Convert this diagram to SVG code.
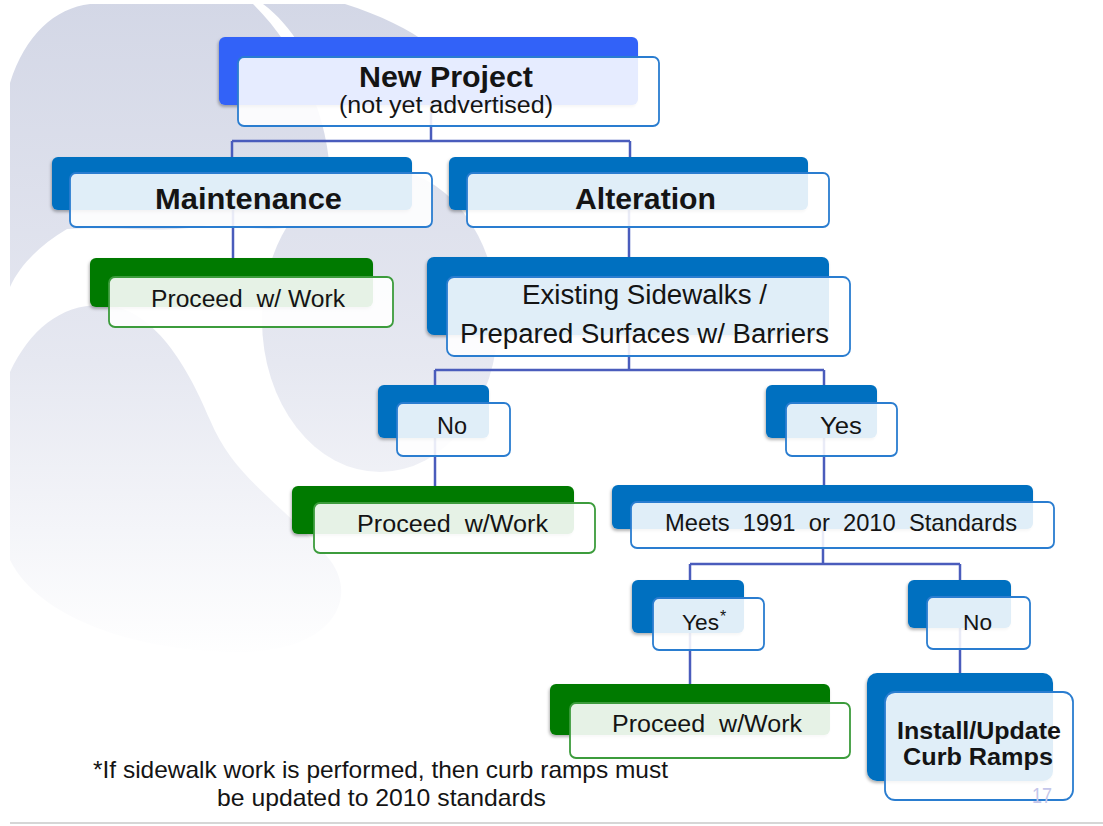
<svg xmlns="http://www.w3.org/2000/svg" width="1103" height="826" viewBox="0 0 1103 826">
  <defs>
    <linearGradient id="bgfade" x1="0" y1="0" x2="0" y2="660" gradientUnits="userSpaceOnUse">
      <stop offset="0" stop-color="#d3d7e6"/>
      <stop offset="0.55" stop-color="#e6e8f1"/>
      <stop offset="1" stop-color="#ffffff"/>
    </linearGradient>
    <filter id="sh" x="-10%" y="-10%" width="120%" height="130%">
      <feDropShadow dx="-1" dy="2" stdDeviation="1.5" flood-color="#000" flood-opacity="0.3"/>
    </filter>
  </defs>
  <style>
    .bg { fill: url(#bgfade); }
    .back { fill: #0070c0; filter: url(#sh); }
    .backTop { fill: #3162f8; filter: url(#sh); }
    .backG { fill: #007a00; filter: url(#sh); }
    .front { fill: #ffffff; fill-opacity: 0.88; stroke: #2a7dd0; stroke-width: 1.8; }
    .frontG { fill: #ffffff; fill-opacity: 0.9; stroke: #3c9c3c; stroke-width: 1.8; }
    .conn { fill: none; stroke: #4a5cbc; stroke-width: 2.5; }
    text { font-family: "Liberation Sans", Arial, sans-serif; fill: #141414; white-space: pre; }
    .b { font-weight: bold; }
  </style>

  <rect x="0" y="0" width="1103" height="826" fill="#ffffff"/>

  <!-- background swirl shapes -->
  <g id="background">
    <path class="bg" d="M10,83 C25,35 55,8 90,4 L253,4 C300,50 330,120 330,180 C330,205 320,220 300,226 C270,232 230,226 207,225 C170,234 110,226 67,229 C40,245 20,265 10,287 Z"/>
    <path class="bg" d="M263,4 L345,4 C380,15 410,30 430,45 L300,45 C290,30 278,15 263,4 Z"/>
    <ellipse class="bg" cx="380" cy="320" rx="118" ry="152"/>
    <path class="bg" d="M10,372 C30,330 60,305 100,305 C150,305 185,360 210,420 C235,480 280,500 330,560 C360,600 330,652 240,652 C140,652 40,620 10,560 Z"/>
    <line x1="10" y1="823" x2="1103" y2="823" stroke="#d6d6d6" stroke-width="2"/>
  </g>

  <!-- connectors -->
  <g id="connectors">
    <path class="conn" d="M431,90 V141"/>
    <path class="conn" d="M232,141 H630"/>
    <path class="conn" d="M232,141 V190"/>
    <path class="conn" d="M630,141 V190"/>
    <path class="conn" d="M233,200 V280"/>
    <path class="conn" d="M629,200 V300"/>
    <path class="conn" d="M629,320 V370"/>
    <path class="conn" d="M435,370 H824"/>
    <path class="conn" d="M435,370 V420"/>
    <path class="conn" d="M824,370 V420"/>
    <path class="conn" d="M435,425 V505"/>
    <path class="conn" d="M824,425 V505"/>
    <path class="conn" d="M823,525 V564"/>
    <path class="conn" d="M690,564 H960"/>
    <path class="conn" d="M690,564 V610"/>
    <path class="conn" d="M960,564 V610"/>
    <path class="conn" d="M690,620 V705"/>
    <path class="conn" d="M960,620 V700"/>
  </g>

  <g id="new-project">
    <rect class="backTop" x="219" y="37" width="419" height="68" rx="6"/>
    <rect class="front" x="238" y="57" width="421" height="69" rx="6"/>
    <text class="b" x="359" y="87" font-size="30" textLength="174" lengthAdjust="spacingAndGlyphs">New Project</text>
    <text x="339" y="113" font-size="23" textLength="214" lengthAdjust="spacingAndGlyphs">(not yet advertised)</text>
  </g>

  <g id="maintenance">
    <rect class="back" x="52" y="157" width="360" height="53" rx="6"/>
    <rect class="front" x="70" y="173" width="362" height="54" rx="6"/>
    <text class="b" x="155" y="209" font-size="30" textLength="187" lengthAdjust="spacingAndGlyphs">Maintenance</text>
  </g>

  <g id="alteration">
    <rect class="back" x="449" y="157" width="359" height="53" rx="6"/>
    <rect class="front" x="467" y="173" width="362" height="54" rx="6"/>
    <text class="b" x="575" y="209" font-size="30" textLength="141" lengthAdjust="spacingAndGlyphs">Alteration</text>
  </g>

  <g id="proceed-1">
    <rect class="backG" x="90" y="258" width="283" height="49" rx="6"/>
    <rect class="frontG" x="109" y="277" width="284" height="50" rx="6"/>
    <text x="151" y="307" font-size="23" textLength="194" lengthAdjust="spacingAndGlyphs" xml:space="preserve">Proceed  w/ Work</text>
  </g>

  <g id="existing-sidewalks">
    <rect class="back" x="427" y="257" width="402" height="78" rx="7"/>
    <rect class="front" x="447" y="277" width="403" height="79" rx="7"/>
    <text x="522" y="304" font-size="27" textLength="245" lengthAdjust="spacingAndGlyphs">Existing Sidewalks /</text>
    <text x="460" y="343" font-size="27" textLength="369" lengthAdjust="spacingAndGlyphs">Prepared Surfaces w/ Barriers</text>
  </g>

  <g id="no-1">
    <rect class="back" x="378" y="385" width="111" height="53" rx="6"/>
    <rect class="front" x="397" y="403" width="113" height="53" rx="6"/>
    <text x="437" y="434" font-size="23" textLength="30" lengthAdjust="spacingAndGlyphs">No</text>
  </g>

  <g id="yes-1">
    <rect class="back" x="766" y="385" width="111" height="53" rx="6"/>
    <rect class="front" x="786" y="403" width="111" height="53" rx="6"/>
    <text x="820" y="434" font-size="23" textLength="42" lengthAdjust="spacingAndGlyphs">Yes</text>
  </g>

  <g id="proceed-2">
    <rect class="backG" x="292" y="486" width="282" height="48" rx="6"/>
    <rect class="frontG" x="314" y="503" width="281" height="50" rx="6"/>
    <text x="357" y="532" font-size="23" textLength="191" lengthAdjust="spacingAndGlyphs" xml:space="preserve">Proceed  w/Work</text>
  </g>

  <g id="meets-standards">
    <rect class="back" x="612" y="485" width="421" height="44" rx="6"/>
    <rect class="front" x="631" y="502" width="423" height="46" rx="6"/>
    <text x="665" y="531" font-size="24" textLength="352" lengthAdjust="spacingAndGlyphs" xml:space="preserve">Meets  1991  or  2010  Standards</text>
  </g>

  <g id="yes-2">
    <rect class="back" x="632" y="580" width="112" height="53" rx="6"/>
    <rect class="front" x="653" y="598" width="111" height="52" rx="6"/>
    <text x="682" y="630" font-size="22" textLength="37" lengthAdjust="spacingAndGlyphs">Yes</text>
    <text x="720" y="622" font-size="16">*</text>
  </g>

  <g id="no-2">
    <rect class="back" x="908" y="580" width="103" height="48" rx="6"/>
    <rect class="front" x="927" y="597" width="103" height="52" rx="6"/>
    <text x="963" y="630" font-size="22" textLength="29" lengthAdjust="spacingAndGlyphs">No</text>
  </g>

  <g id="proceed-3">
    <rect class="backG" x="550" y="684" width="280" height="51" rx="6"/>
    <rect class="frontG" x="570" y="703" width="280" height="55" rx="6"/>
    <text x="612" y="732" font-size="23" textLength="190" lengthAdjust="spacingAndGlyphs" xml:space="preserve">Proceed  w/Work</text>
  </g>

  <g id="install-update">
    <rect class="back" x="867" y="673" width="186" height="108" rx="10"/>
    <rect class="front" x="885" y="692" width="188" height="108" rx="10"/>
    <text class="b" x="897" y="739" font-size="23" textLength="164" lengthAdjust="spacingAndGlyphs">Install/Update</text>
    <text class="b" x="903" y="765" font-size="23" textLength="150" lengthAdjust="spacingAndGlyphs">Curb Ramps</text>
  </g>

  <g id="footnote">
    <text x="93" y="778" font-size="24" textLength="575" lengthAdjust="spacingAndGlyphs">*If sidewalk work is performed, then curb ramps must</text>
    <text x="217" y="806" font-size="24" textLength="329" lengthAdjust="spacingAndGlyphs">be updated to 2010 standards</text>
    <text x="1032" y="803" font-size="22" textLength="20" lengthAdjust="spacingAndGlyphs" style="fill:#c4c6ea">17</text>
  </g>
</svg>
